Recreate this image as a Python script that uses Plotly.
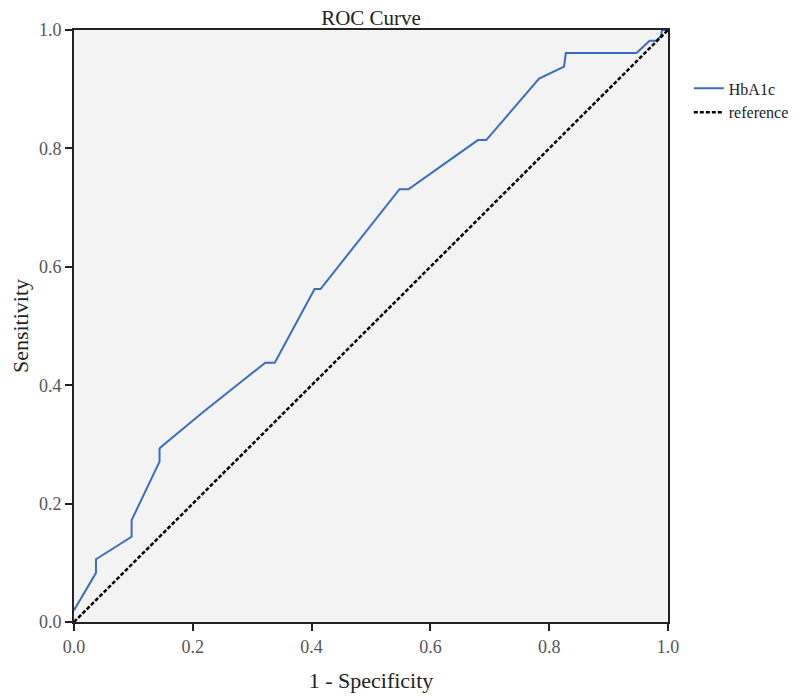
import plotly.graph_objects as go

# ROC curve points for HbA1c (1 - specificity, sensitivity)
fpr = [0.0, 0.037, 0.037, 0.097, 0.097, 0.144, 0.144, 0.148, 0.218, 0.296, 0.322, 0.338,
       0.405, 0.415, 0.548, 0.563, 0.655, 0.680, 0.694, 0.783, 0.825, 0.828, 0.947,
       0.969, 0.980, 0.988, 0.990, 1.0]
tpr = [0.02, 0.083, 0.106, 0.144, 0.172, 0.271, 0.293, 0.297, 0.355, 0.417, 0.438, 0.438,
       0.5625, 0.5625, 0.731, 0.731, 0.797, 0.814, 0.814, 0.918, 0.938, 0.961, 0.961,
       0.982, 0.982, 0.99, 1.0, 1.0]
ref_x = [0.0, 1.0]
ref_y = [0.0, 1.0]
ticks = [0.0, 0.2, 0.4, 0.6, 0.8, 1.0]
tick_labels = ["0.0", "0.2", "0.4", "0.6", "0.8", "1.0"]

font_family = "Liberation Serif, DejaVu Serif, serif"

fig = go.Figure()
fig.add_trace(go.Scatter(x=fpr, y=tpr, mode="lines", name="HbA1c",
                         line=dict(color="#3a6cc0", width=2)))
fig.add_trace(go.Scatter(x=ref_x, y=ref_y, mode="lines", name="reference",
                         line=dict(color="black", width=2.5, dash="4px,2px")))

axis_common = dict(range=[0, 1], tickvals=ticks, ticktext=tick_labels,
                   showgrid=False, zeroline=False, showline=True, linecolor="#222",
                   linewidth=2, mirror=True, ticks="outside", ticklen=7, tickwidth=2,
                   tickcolor="#222", tickfont=dict(family=font_family, size=18, color="#555"),
                   fixedrange=True, automargin=False)

fig.update_layout(
    width=800, height=698,
    margin=dict(l=66, r=140, t=22, b=84),
    paper_bgcolor="white", plot_bgcolor="#f3f3f4",
    title=dict(text="ROC Curve", x=0.5, xref="paper", xanchor="center",
               yref="paper", y=1.0, yanchor="bottom", pad=dict(b=5, t=0),
               automargin=False,
               font=dict(family=font_family, size=21, color="#222")),
    xaxis=dict(axis_common, title=dict(text="1 - Specificity", standoff=17,
                                       font=dict(family=font_family, size=22, color="#222"))),
    yaxis=dict(axis_common, title=dict(text="Sensitivity", standoff=19,
                                       font=dict(family=font_family, size=22, color="#222"))),
    legend=dict(x=1.035, y=0.93, xanchor="left", yanchor="top",
                font=dict(family=font_family, size=16, color="#222"),
                bgcolor="rgba(0,0,0,0)", tracegroupgap=0, itemwidth=30),
    showlegend=True,
)

fig.write_html("out.html")
